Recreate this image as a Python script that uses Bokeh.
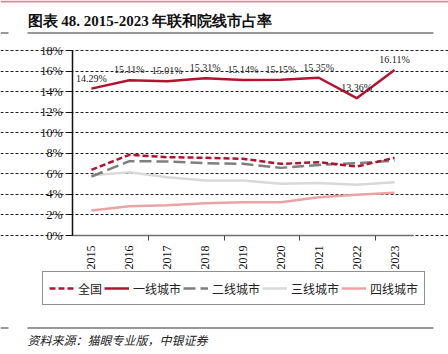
from bokeh.plotting import figure
from bokeh.models import (ColumnDataSource, Legend, LegendItem, LabelSet, Label,
                          BoxAnnotation, FixedTicker, PrintfTickFormatter, Range1d)
from bokeh.embed import file_html
from bokeh.resources import INLINE
import math

years = [2015, 2016, 2017, 2018, 2019, 2020, 2021, 2022, 2023]
national = [6.39, 7.85, 7.62, 7.56, 7.46, 6.97, 7.13, 6.71, 7.56]
tier1 = [14.29, 15.11, 15.01, 15.31, 15.14, 15.15, 15.35, 13.36, 16.11]
tier2 = [5.74, 7.23, 7.20, 7.03, 6.97, 6.58, 6.87, 7.03, 7.30]
tier3 = [5.85, 6.16, 5.67, 5.35, 5.35, 5.03, 5.10, 4.93, 5.19]
tier4 = [2.43, 2.85, 2.95, 3.14, 3.24, 3.24, 3.73, 3.96, 4.15]
tier1_labels = ["14.29%", "15.11%", "15.01%", "15.31%", "15.14%", "15.15%", "15.35%", "13.36%", "16.11%"]
series_names = ["全国", "一线城市", "二线城市", "三线城市", "四线城市"]
y_ticks = [0, 2, 4, 6, 8, 10, 12, 14, 16, 18]
x_ticks = years

title_text = "图表 48. 2015-2023 年联和院线市占率"
source_text = "资料来源：猫眼专业版，中银证券"

RED = "#B3132E"
W, H = 448, 354

# plot-area geometry (pixels on the canvas)
PL, PR, PT, PB = 72, 413, 50, 235
x_lo, x_hi = years[0] - 0.5, years[-1] + 0.5
y_lo, y_hi = y_ticks[0], y_ticks[-1]
xpx = (PR - PL) / (x_hi - x_lo)
ypx = (PB - PT) / (y_hi - y_lo)

src = ColumnDataSource(dict(x=years, national=national, t1=tier1, t2=tier2,
                            t3=tier3, t4=tier4, lab=tier1_labels))

p = figure(width=W, height=H, output_backend="svg", toolbar_location=None,
           min_border=0)
p.x_range = Range1d(x_lo - PL / xpx, x_hi + (W - PR) / xpx)
p.y_range = Range1d(y_lo - (H - PB) / ypx, y_hi + PT / ypx)
p.outline_line_color = None

l4 = p.line("x", "t4", source=src, line_color="#EAA4A4", line_width=2.5)
l3 = p.line("x", "t3", source=src, line_color="#D9D9D9", line_width=2.5)
l2 = p.line("x", "t2", source=src, line_color="#7F7F7F", line_width=2.5, line_dash="12 5")
l1 = p.line("x", "t1", source=src, line_color=RED, line_width=2.5)
l0 = p.line("x", "national", source=src, line_color=RED, line_width=2.5, line_dash="6 3")

labels = LabelSet(x="x", y="t1", text="lab", source=src, text_align="center",
                  text_baseline="bottom", y_offset=5, text_font_size="10px",
                  text_font="Liberation Serif", text_color="#222")
p.add_layout(labels)

p.yaxis.fixed_location = x_lo
p.yaxis.bounds = (y_lo, y_hi)
p.yaxis.ticker = FixedTicker(ticks=y_ticks)
p.yaxis.formatter = PrintfTickFormatter(format="%d%%")
p.yaxis.major_label_text_font = "Liberation Serif"
p.yaxis.major_label_text_font_size = "12px"
p.yaxis.major_label_text_color = "#111"
p.yaxis.axis_line_color = "#111"
p.yaxis.axis_line_width = 1.5
p.yaxis.major_tick_line_color = "#111"
p.yaxis.major_tick_out = 5
p.yaxis.major_tick_in = 0
p.yaxis.minor_tick_line_color = None

p.xaxis.fixed_location = y_lo
p.xaxis.bounds = (x_lo, x_hi)
p.xaxis.ticker = FixedTicker(ticks=x_ticks,
                             minor_ticks=[x_lo + 2, x_lo + 4, x_lo + 6, x_lo + 8])
p.xaxis.formatter = PrintfTickFormatter(format="%d")
p.xaxis.major_label_orientation = math.pi / 2
p.xaxis.major_label_text_font = "Liberation Serif"
p.xaxis.major_label_text_font_size = "12px"
p.xaxis.major_label_text_color = "#111"
p.xaxis.axis_line_color = "#6F6F6F"
p.xaxis.axis_line_width = 1.5
p.xaxis.major_tick_line_color = None
p.xaxis.minor_tick_line_color = "#444"
p.xaxis.minor_tick_out = 5
p.xaxis.minor_tick_in = 0
p.xaxis.major_label_standoff = 4

p.xgrid.grid_line_color = None
p.ygrid.grid_line_color = "#222"
p.ygrid.grid_line_dash = "3 2"
p.ygrid.grid_line_width = 1
p.ygrid.bounds = (x_lo, x_hi)

legend = Legend(items=[
    LegendItem(label=series_names[0], renderers=[l0]),
    LegendItem(label=series_names[1], renderers=[l1]),
    LegendItem(label=series_names[2], renderers=[l2]),
    LegendItem(label=series_names[3], renderers=[l3]),
    LegendItem(label=series_names[4], renderers=[l4]),
], orientation="horizontal", location=(42, H - 305))
legend.label_text_font = "Noto Sans CJK SC"
legend.label_text_font_size = "12px"
legend.label_text_color = "#222"
legend.glyph_width = 25
legend.glyph_height = 20
legend.label_height = 20
legend.label_standoff = 4
legend.spacing = 2
legend.padding = 6
legend.margin = 0
legend.border_line_color = "#222"
legend.border_line_width = 1.5
legend.background_fill_alpha = 1
p.add_layout(legend, "center")

# title, source and rules (screen units: origin at bottom-left of the plot frame)
p.add_layout(Label(x=27, y=H - 20.5, x_units="screen", y_units="screen", text=title_text,
                   text_baseline="middle",
                   text_font="Liberation Serif", text_font_style="bold",
                   text_font_size="15px", text_color="#111"))
p.add_layout(Label(x=27, y=H - 339, x_units="screen", y_units="screen", text=source_text,
                   text_baseline="middle",
                   text_font="Noto Sans CJK SC", text_font_style="italic",
                   text_font_size="12px", text_color="#222"))
for (l, r, t, b, c) in [(0, W, 0, 2, "#E0879C"),
                        (27, 433, 32, 33, "#333"),
                        (0, 8, 32, 33, "#333"),
                        (27, 433, 327, 328, "#333"),
                        (0, 8, 327, 328, "#333")]:
    p.add_layout(BoxAnnotation(left=l, right=r, top=H - t, bottom=H - b,
                               left_units="screen", right_units="screen",
                               top_units="screen", bottom_units="screen",
                               fill_color=c, fill_alpha=1, line_color=None))

open("out.html", "w").write(file_html(p, INLINE))
